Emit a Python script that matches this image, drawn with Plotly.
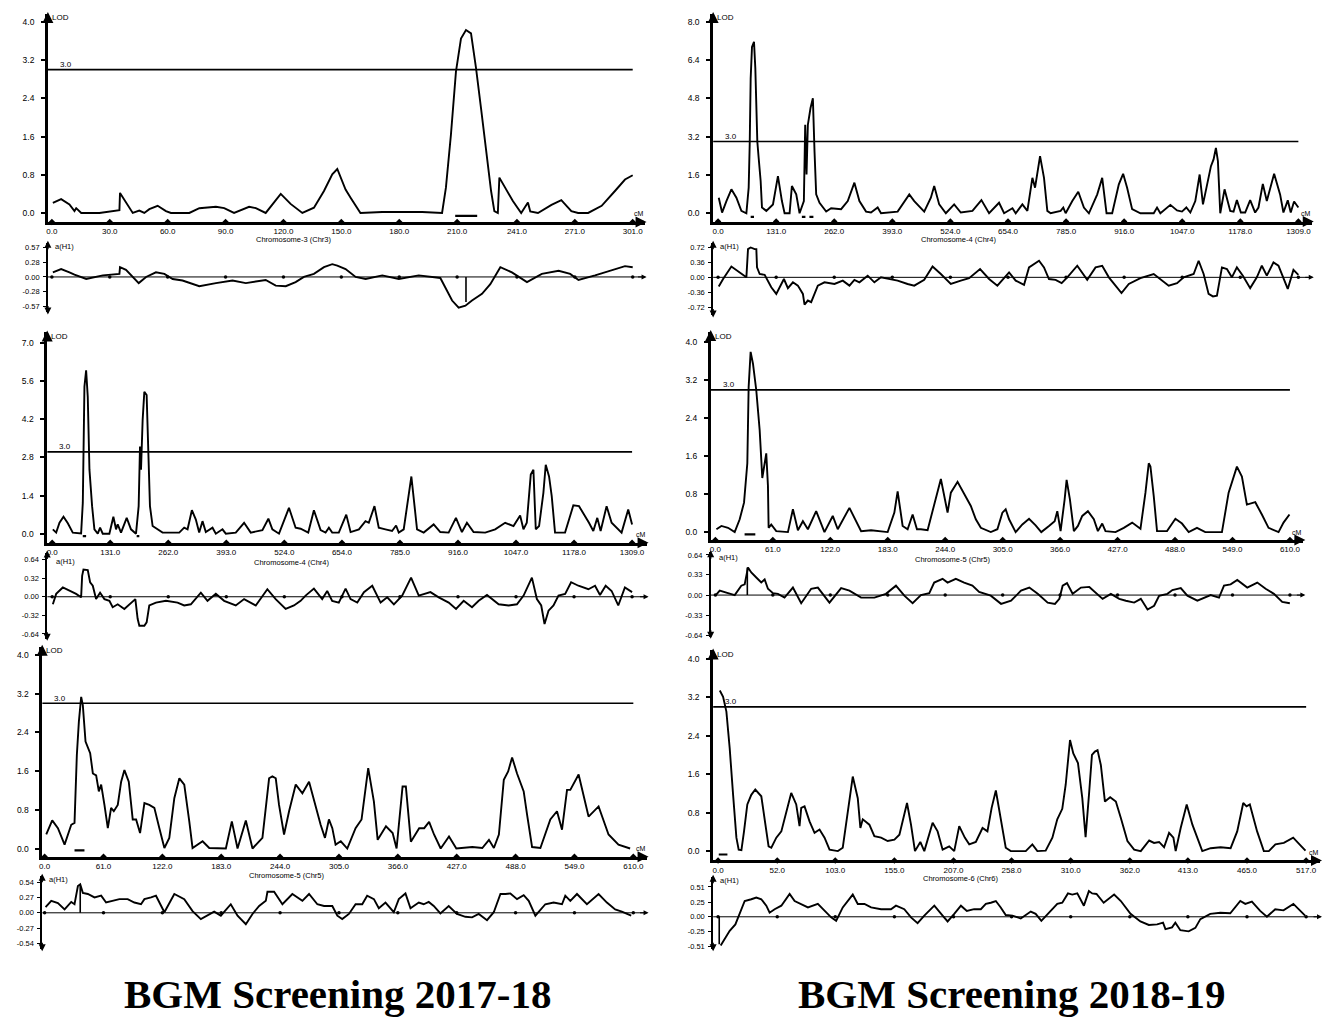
import plotly.graph_objects as go

W, H = 1333, 1018

# ------------------------------------------------------------------ data
lod_threshold = 3.0

# Chr3, 2017-18
chr3_1718_cm = [0.5,4.8,9.1,11.7,12.6,15.2,24.6,31.5,35.0,35.3,37.6,41.9,45.3,47.9,50.5,54.8,59.1,61.7,71.2,76.4,
                85.0,89.3,94.4,102.2,105.7,110.8,118.6,123.7,129.8,135.8,141.0,145.3,147.9,152.2,154.8,159.9,171.2,191.9,202.2,204.2,
                206.8,209.4,212.0,214.6,217.2,219.8,222.4,225.0,227.6,229.3,231.1,231.9,234.5,238.9,243.2,246.7,247.9,251.9,258.9,264.0,
                269.2,272.7,277.9,284.9,291.8,297.0,301.0]
chr3_1718_lod = [0.21,0.29,0.18,0.04,0.10,0.0,0.0,0.04,0.06,0.42,0.28,0.0,0.05,0.0,0.08,0.15,0.04,0.0,0.0,0.10,
                 0.13,0.10,0.0,0.13,0.10,0.0,0.40,0.19,0.0,0.11,0.46,0.81,0.92,0.49,0.32,0.0,0.02,0.02,0.0,0.53,
                 1.64,2.96,3.65,3.83,3.76,3.03,2.19,1.29,0.46,0.04,0.0,0.74,0.56,0.25,0.0,0.22,0.03,0.0,0.17,0.27,
                 0.04,0.0,0.0,0.15,0.46,0.70,0.79]
chr3_1718_a_cm = [0.5,4.8,9.1,11.7,17.8,26.4,35.0,35.3,38.4,41.9,45.0,48.8,53.9,58.3,62.6,67.7,76.4,85.0,93.6,100.5,
                  110.8,116.0,121.2,126.3,130.6,135.8,141.0,145.3,147.9,152.2,157.4,162.6,171.2,179.8,190.1,201.3,203.9,207.4,210.8,214.3,
                  217.7,222.9,227.2,232.4,238.4,246.2,253.9,262.6,268.6,272.9,281.5,291.8,297.0,301.0]
chr3_1718_a = [0.09,0.155,0.09,0.045,-0.04,0.03,0.06,0.19,0.14,0.0,-0.12,0.0,0.09,0.06,-0.04,-0.07,-0.18,-0.12,-0.07,-0.12,
               -0.06,-0.17,-0.18,-0.10,0.0,0.06,0.19,0.25,0.22,0.155,0.0,-0.04,0.03,-0.04,0.03,-0.02,-0.20,-0.46,-0.60,-0.56,
               -0.46,-0.33,-0.14,0.19,0.09,-0.10,0.06,0.12,0.06,-0.06,0.03,0.155,0.21,0.19]

# Chr4, 2018-19
chr4_1819_cm = [1.5,9,18.8,30,41.3,52.5,63.8,69,71.3,73.5,76.5,81,84,88.5,91.5,96,99,108.8,123.8,135,
                144,150,161.3,166.5,176.3,183.8,193.5,196.5,199.5,202.5,208.5,213.8,217.5,221.3,228.8,243.8,255,277.5,292.5,307.5,
                318.8,333.8,345,360,367.5,405,431.3,442.5,465,480,487.5,498.8,513.8,532.5,547.5,573.8,594,611.3,633.8,645.2,
                664,671.4,686.4,697.7,709,715,726.3,735.2,742.7,750.2,772.7,778.7,784,799,812.5,825.2,836.5,855.3,866.5,876.3,
                889,904,913.7,922.7,934,952.7,982.7,990.2,997.7,1020.3,1035.3,1046.5,1056.3,1065.3,1076.5,1086.3,1093.8,1102.8,1111.8,1117.7,
                1123,1127.5,1132.8,1142.5,1155.3,1162.8,1170.3,1179.3,1189,1200.3,1211.5,1219,1228.8,1237.8,1254.3,1267.8,1275.3,1285.1,1291.8,1299.3,
                1309]
chr4_1819_lod = [0.65,0.03,0.51,1.0,0.65,0.1,0,1.07,2.87,5.64,6.96,7.17,6.06,3.0,2.32,1.35,0.24,0.1,0.37,1.55,
                 0.51,0,0,1.14,0.79,0,0.51,3.7,1.62,3.7,4.4,4.81,2.59,0.79,0.44,0.07,0.21,0.17,0.51,1.28,
                 0.51,0.07,0.03,0.24,0,0.07,0.79,0.51,0.07,0.65,1.14,0.37,0,0.37,0.03,0.1,0.55,0,0.44,0,
                 0.21,0,0.37,0.1,1.48,1.07,2.39,1.48,0.1,0,0.1,0.24,0,0.51,0.9,0.24,0,0.79,1.48,0,
                 0,1.21,1.65,1.07,0.17,0,0,0.24,0,0.35,0.12,0.07,0.24,0.03,0.51,1.62,0.37,1.21,1.97,2.25,
                 2.73,2.18,0,1.0,0.1,0.07,0.55,0.03,0.03,0.55,0.03,0.24,1.23,0.51,1.65,0.79,0.03,0.54,0.03,0.49,
                 0.24]
chr4_1819_a_cm = [1.5,11.3,30,48.8,63.8,67.5,73.5,82.5,86.3,87.8,93.8,105,120,131.3,138.8,148.5,157.5,168.8,180,191.3,
                  195,202.5,210,217.5,225,240,262.5,281.3,296.3,307.5,318.8,337.5,352.5,367.5,386.3,405,427.5,442.5,465,483.8,
                  502.5,525,547.5,566.3,591,611.3,630,656.4,671.4,690.2,701.4,712.7,724,735.2,746.4,761.4,775,787.7,810.2,832.7,
                  851.5,866.5,881.5,896.5,910,926.5,952.7,982.7,997.7,1016.5,1035.3,1050.3,1072.8,1084,1095.3,1106.5,1116.3,1125.3,1136.6,1147.8,
                  1159,1170.3,1183.8,1200.3,1215.3,1226.6,1237.8,1252.8,1264.1,1273.9,1285.1,1297.9,1309]
chr4_1819_a = [-0.22,-0.04,0.26,0.12,0,0.68,0.72,0.68,0.68,0.24,0.08,0.06,-0.24,-0.4,-0.24,-0.04,-0.26,-0.12,-0.2,-0.4,
               -0.66,-0.56,-0.6,-0.4,-0.2,-0.12,-0.16,-0.08,-0.2,-0.06,-0.12,0.04,-0.12,0,-0.04,-0.08,-0.16,-0.2,-0.06,0.26,
               0.08,-0.16,-0.08,-0.02,0.2,-0.04,-0.2,0.12,-0.08,-0.18,0.24,0.32,0.4,0.24,-0.04,-0.06,-0.14,0,0.28,-0.06,
               0.24,0.28,0,-0.2,-0.38,-0.16,-0.02,0.08,-0.04,-0.2,-0.14,0,0.08,0.4,0.08,-0.4,-0.46,-0.44,0.24,0.2,
               0,0.24,0.04,-0.26,0,0.28,0.04,0.36,0.28,0,-0.28,0.18,0.06]

# Chr4, 2017-18
chr4_1718_cm = [1.5,9,16.5,25.5,35.3,46.5,65.3,69.1,72.8,76.6,80.3,84.1,90.1,95.3,102.9,108.1,114.1,129.1,138.1,144.1,
                147.9,155.4,168.2,177.9,189.2,195.2,198.2,200.5,204.2,208,213.2,217.7,220.7,226.7,241.7,249.2,286.8,298,305.6,315.3,
                324.3,331.8,339.3,346.8,361.9,369.4,384.4,391.9,414.4,433.2,448.2,474.5,488,497,512,534.5,549.5,560.8,578,590.8,
                605.9,617.1,624.6,632.1,647,663.8,673.6,692.4,707.2,714.7,727.5,737.2,752.2,767.2,776.3,782.3,793.5,810.8,823.6,838.6,
                861.1,876.1,894.9,911.4,924.9,936.2,951.2,977.5,1000,1022.5,1041.3,1056.3,1063.8,1071.3,1080.3,1086.3,1091.6,1099.1,1108.8,1114.1,
                1121.6,1127.6,1135.1,1157.7,1166.7,1176.4,1189.2,1201.2,1211.7,1221.5,1230.5,1238,1251.5,1262.8,1274,1285.3,1300.3,1309]
chr4_1718_lod = [0.16,0.04,0.4,0.62,0.38,0.04,0.01,1.13,5.4,6.0,5.03,2.35,1.01,0.16,0,0.22,0,0,0.62,0.16,
                 0.34,0.04,0.58,0.16,0,1.01,3.2,2.35,4.18,5.21,5.09,2.96,1.01,0.28,0.13,0.04,0.04,0.22,0.16,0.86,
                 0.52,0.04,0.46,0.06,0.22,0,0.16,0,0.04,0.4,0.04,0.13,0.55,0.16,0,0.95,0.22,0.18,0.04,0.86,
                 0.13,0.04,0.22,0.04,0.04,0.7,0.06,0.16,0.46,0.4,1.01,0.22,0.16,0.1,0.3,0.04,0.16,2.1,0.16,0.04,
                 0.34,0.06,0.04,0.58,0.06,0.4,0.06,0.04,0.16,0.4,0.28,0.67,0.16,0.4,2.17,2.35,0.16,0.28,1.5,2.53,
                 2.1,1.38,0.04,0.04,0.52,1.04,1.01,0.7,0.4,0.1,0.58,0.1,1.01,0.4,0.22,0.04,0.89,0.34]
chr4_1718_a_cm = [1.5,9,24,39,54,65.3,67.6,70.6,80.3,85.6,91.6,99.1,108.1,117.9,129.1,136.6,147.9,162.9,177.9,187.7,
                  192.9,196.7,208,213.2,219.2,234.2,256.8,283,298,313,335.6,350.6,369.4,388.1,414.4,433.2,459.5,485.7,504.5,527,
                  545.8,560.8,572,590.8,609.5,620.8,632.1,647,662.3,673.6,688.7,703.7,722.5,741.3,756.3,771.3,790,810.1,827.5,853.8,
                  872.6,895.1,911.6,928.9,947.7,962.7,981.5,1007.8,1030.3,1049.1,1064.1,1082.9,1094.1,1103.9,1111.4,1120.4,1131.6,1142.9,1157.9,1171.4,
                  1187.8,1210.4,1225.4,1236.6,1249.4,1262.8,1277.8,1292.8,1309]
chr4_1718_a = [-0.13,0.05,0.16,0.1,0.05,-0.01,0.36,0.47,0.46,0.25,0.19,-0.04,0.07,-0.04,-0.07,-0.18,-0.13,-0.21,-0.1,-0.04,
               -0.38,-0.5,-0.5,-0.44,-0.15,-0.1,-0.07,-0.1,-0.15,-0.13,0.07,-0.07,0.05,-0.07,-0.15,-0.04,-0.15,0.13,-0.04,-0.21,
               -0.15,-0.07,0.02,0.14,-0.04,0.1,-0.07,-0.1,0.14,-0.04,-0.1,0.08,0.19,-0.1,-0.01,-0.13,0.02,0.33,0.02,0.08,
               -0.01,-0.1,-0.21,-0.07,-0.18,-0.07,0.03,-0.13,-0.15,-0.13,0.02,0.33,-0.04,-0.15,-0.47,-0.24,-0.15,0.02,0.05,0.25,
               0.19,0.13,0.19,0.03,0.19,0.1,-0.15,0.16,0.08]

# Chr5, 2018-19
chr5_1819_cm = [1.1,6.4,13.4,20.5,25.8,30.4,33.9,35.3,37.4,39.9,43.4,47,49.8,52.3,54,55.8,56.5,59.3,64.6,77,
                82.3,87.6,92.9,98.2,107,115.8,124.6,129.9,142.3,154.7,165.3,182.9,190,193.5,198.8,204.1,209.4,214,218.2,225.3,
                232.3,239.4,246.5,250,257.1,264.1,271.2,276.5,281.8,292.4,299.4,304.7,308.2,311.8,318.8,325.9,333,340,346,354.2,
                360.2,363,366.5,370.8,372.9,376.4,380.6,384.9,389.5,395.5,401.8,406.1,410.7,414.2,424.8,433.6,442.5,451.3,456.6,460.1,
                461.9,465.4,468.9,479.5,488.4,495.4,502.5,511.3,520.1,537.8,544.9,553.7,559,564.3,573.2,580.2,587.3,597.9,603.2,609.5]
chr5_1819_lod = [0.06,0.13,0.09,0,0.27,0.62,1.45,3.06,3.8,3.55,2.99,2.15,1.14,1.52,1.66,0.97,0.09,0.16,0.02,0,
                 0.48,0.04,0.23,0.06,0.44,0,0.34,0.06,0.51,0.02,0.04,0,0.41,0.86,0.13,0.06,0.37,0.06,0.06,0.04,
                 0.55,1.12,0.41,0.83,1.06,0.79,0.55,0.27,0.09,0,0.06,0.41,0.48,0.27,0,0.16,0.28,0.14,0,0.13,
                 0.23,0.44,0.02,0.69,1.1,0.69,0.02,0.13,0.34,0.44,0.27,0.02,0.18,0.02,0,0.09,0.2,0.07,0.83,1.45,
                 1.38,0.76,0.02,0.02,0.28,0.18,0,0.09,0,0,0.83,1.38,1.17,0.58,0.63,0.37,0.09,0,0.2,0.37]
chr5_1819_a_cm = [0,4.6,13.4,20.5,27.5,31.1,34.6,38.1,43.4,48.7,52.3,55.8,61.1,66.4,73.4,82.3,91.1,101.7,108.8,121.1,
                  133.5,142.3,154.7,168.8,181.1,191.7,200.6,209.4,218.2,227.1,232.3,237.6,241.2,246.5,255.3,264.1,272.9,280,292.4,303.3,
                  313.9,324.5,333.3,342.2,352.8,360.5,365.2,368.7,373.3,379.3,388.1,397,404,411.1,419.9,428.8,435.8,444.6,451.7,458.8,
                  465.8,471.1,479.9,485.2,494.1,501.1,511.7,525.8,534.7,540,547,554.1,564.7,575.3,584.2,593,601.8,609.9]
chr5_1819_a = [-0.01,0.07,0.03,0,0.15,0.17,0.44,0.36,0.28,0.2,0.25,0.1,0.03,0.02,-0.04,0.12,-0.13,0.1,0.12,-0.12,
               0.11,0.07,-0.04,-0.04,0.02,0.15,-0.01,-0.13,0,0.03,0.2,0.23,0.26,0.2,0.26,0.2,0.15,0.05,-0.01,-0.14,
               -0.09,0.07,0.12,0.02,-0.12,-0.14,-0.06,0.15,0.19,0.02,0.12,0.13,0.04,-0.06,0.02,-0.06,-0.09,-0.12,-0.06,-0.23,
               -0.17,-0.01,0.02,0.08,0.11,-0.01,-0.09,0,-0.04,0.15,0.17,0.24,0.12,0.2,0.1,0.02,-0.11,-0.13]

# Chr5, 2017-18
chr5_1718_cm = [1.7,7.9,13.8,20.7,27.6,31,33.4,35.5,37.9,39.6,42.4,44.8,47.2,50,53.4,56.2,58.6,62,65.5,68.9,
                71.7,75.8,79.3,82.7,87.2,91.3,94.8,98.9,103.4,108.5,113.7,118.9,124.1,129.2,134.4,139.6,144.7,149.9,153.3,163.7,
                170.6,187.8,194,199.9,208.5,215.4,225.7,232.6,236,239.5,242.9,248.1,253.3,260.2,267.1,274,280.8,286,290.5,294.6,
                298.1,301.5,306.9,313.6,322.2,328.4,335.3,341.2,345.1,353.7,360.6,364.7,370.9,374.3,379.5,388.1,393.3,398.4,403.5,410.4,
                419,426.6,443.1,453.5,460.4,465.5,470.7,475.8,480.3,484.4,489.5,496.4,499.9,505.1,513.7,524,530.9,536.1,541.3,544.7,
                553.3,563.6,574,584.3,594.6,606.7]
chr5_1718_lod = [0.29,0.58,0.42,0.08,0.49,0.53,1.93,2.62,3.13,2.96,2.21,2.1,1.97,1.55,1.51,1.18,1.32,0.9,0.42,0.84,
                 0.77,0.9,1.38,1.62,1.38,0.6,0.6,0.32,0.94,0.9,0.84,0.42,0.01,0.22,1.04,1.45,1.32,0.56,0.01,0.15,
                 0.01,0,0.56,0,0.58,0,0.22,1.45,1.49,1.45,0.9,0.29,0.77,1.32,1.14,1.38,0.84,0.49,0.22,0.6,
                 0.42,0.08,0.15,0,0.42,0.6,1.66,0.97,0.18,0.46,0.32,0,1.28,1.28,0.14,0.42,0.42,0.55,0.29,0,
                 0.25,0,0.03,0.01,0.18,0.01,0.29,1.42,1.59,1.88,1.55,1.18,0.7,0.03,0.01,0.6,0.77,0.39,1.21,1.21,
                 1.53,0.66,0.87,0.29,0.08,0]
chr5_1718_a_cm = [1,6.9,13.8,20.7,27.6,31,34.5,36.9,39.6,44.8,51.7,58.6,63.7,70.6,77.5,86.1,93,99.9,103.4,110.3,
                  115.4,124.1,134.4,144.7,153.3,161.9,175.7,182.6,192.9,199.9,208.5,215.4,222.3,229.2,230.9,237.8,246.4,256.7,267.1,274,
                  282.6,289.5,298.1,303.3,308.4,315.3,322.2,329.1,334.2,341.2,346.3,353.2,361.8,367,373.9,379.1,387.7,392.8,398,403.2,
                  410.1,418.7,427.3,436,442.9,449.8,458.4,465.4,472.3,477.5,482.6,489.5,496.4,501.6,508.5,518.8,527.4,536.1,539.5,544.7,
                  551.6,561.9,574,582.6,591.2,598.1,607.8]
chr5_1718_a = [0.1,0.21,0.17,0.06,0.19,0.15,0.47,0.5,0.35,0.33,0.27,0.3,0.18,0.21,0.24,0.24,0.18,0.15,0.24,0.27,
               0.3,0.01,0.33,0.24,0.03,-0.11,0.02,-0.05,0.15,-0.05,-0.2,-0.02,0.12,0.21,0.37,0.37,0.15,0.33,0.21,0.33,
               0.15,0.12,0.12,-0.05,-0.11,-0.02,0.15,0.15,0.3,0.24,0.08,0.18,0.01,0.24,0.34,0.08,0.18,0.15,0.19,0.12,
               -0.01,0.12,-0.02,-0.07,-0.08,-0.02,-0.13,0.01,0.33,0.33,0.34,0.24,0.31,0.21,-0.05,0.15,0.18,0.15,0.3,0.21,
               0.33,0.15,0.33,0.18,0.06,0.02,-0.05]

# Chr6, 2018-19
chr6_1819_cm = [1.5,4.4,7.3,10.2,13.2,16.1,18.1,20.5,22.8,25.7,29.2,32.7,38,40.9,44.4,46.8,51.2,55.6,59.9,64.3,
                68.7,71.6,73.1,76,80.4,84.8,89.2,93.6,98,105.3,109.6,114,118.4,122.8,125.1,127.2,133,137.4,143.3,149.1,
                155,159.4,166.1,169.6,173.1,177.8,181.3,188.6,193,197.4,203.2,207.6,212,216.9,220.8,226.6,232.5,236.8,240.5,244.2,
                248.5,252.9,257.3,270.5,276.3,280.7,288,293.9,298.2,302.6,305.6,309.4,312.3,316.4,320.2,323.1,326.3,328.7,331.3,333.6,
                336.5,340.1,344.7,349.7,354.1,359.9,365.8,371.6,379,383.3,387.7,392.1,396.5,400.3,402.3,406.7,412,417,425.7,433,
                441.8,450.6,456.4,461.7,464.6,467.5,473.9,479.8,484.2,490,497.4,505.6,512,516.4]
chr6_1819_lod = [3.34,3.21,2.9,2.14,1.17,0.28,0.03,0.02,0.41,0.97,1.17,1.28,1.14,0.62,0.1,0.07,0.28,0.41,0.83,1.21,
                 0.97,0.52,0.9,0.93,0.62,0.38,0.45,0.28,0.03,0,0.07,0.83,1.55,1.1,0.48,0.66,0.55,0.31,0.28,0.21,
                 0.24,0.34,1.0,0.55,0,0.19,0,0.59,0.41,0.03,0.1,0,0.52,0.28,0.14,0.19,0.48,0.41,0.9,1.26,
                 0.69,0.07,0,0,0.14,0,0.01,0.28,0.66,0.88,1.38,2.31,2.03,1.83,1.1,0.29,1.24,2.0,2.07,2.1,
                 1.79,1.03,1.12,1.03,0.69,0.21,0.03,0,0.22,0.17,0.19,0.08,0.38,0.28,0,0.48,0.97,0.55,0,0.06,
                 0.08,0.06,0.41,1.0,0.93,0.97,0.41,0,0,0.14,0.17,0.28,0.12,0.01]
chr6_1819_a_cm = [2.3,5.8,10.2,15.2,19,23.4,29.2,33.6,38,42.4,45.3,49.7,55.6,62.9,67.3,73.1,79,87.7,93.6,99.4,
                  103.8,109.6,118.4,122.8,128.7,134.5,143.3,152,156.4,163.7,169.6,175.4,181.3,190.1,197.4,201.8,207.6,213.5,218.7,225.1,
                  231,235.4,239.8,244.2,248.5,252.9,258.8,266.1,274.9,279.2,284.2,291,298.2,302.6,307.6,311.4,315.8,321.6,326,328.9,
                  332.7,339,348.2,354.1,362.6,371.3,378.7,386,391.2,393.3,399.1,402,406.4,413.7,419.6,424,432.7,441.5,450.3,459.1,
                  463.5,469.3,476.6,482.5,489.8,497.1,505.8,516.1]
chr6_1819_a = [-0.49,-0.38,-0.24,-0.13,0.05,0.27,0.3,0.33,0.3,0.19,0.07,0.13,0.19,0.39,0.27,0.22,0.16,0.22,0.1,-0.01,
               -0.07,0.16,0.38,0.22,0.22,0.16,0.13,0.13,0.19,0.13,-0.01,-0.11,0.02,0.19,0.02,-0.08,0.05,0.19,0.1,0.13,
               0.13,0.22,0.24,0.27,0.16,0.03,0.02,-0.03,0.09,0.05,-0.07,0.07,0.22,0.24,0.4,0.38,0.4,0.19,0.44,0.4,
               0.39,0.24,0.38,0.27,0.05,-0.08,-0.14,-0.13,-0.1,-0.21,-0.18,-0.1,-0.23,-0.25,-0.19,-0.04,0.05,0.07,0.06,0.27,
               0.22,0.26,0.1,0,0.13,0.11,0.22,0.02]

# axis ticks / labels
cm_ticks_chr3 = [0, 30, 60, 90, 120, 150, 180, 210, 241, 271, 301]
cm_ticks_chr4 = [0, 131, 262, 393, 524, 654, 785, 916, 1047, 1178, 1309]
cm_ticks_chr5 = [0, 61, 122, 183, 244, 305, 366, 427, 488, 549, 610]
cm_ticks_chr6 = [0, 52, 103, 155, 207, 258, 310, 362, 413, 465, 517]
lod_ticks_4 = [0.0, 0.8, 1.6, 2.4, 3.2, 4.0]
lod_ticks_8 = [0.0, 1.6, 3.2, 4.8, 6.4, 8.0]
lod_ticks_7 = [0.0, 1.4, 2.8, 4.2, 5.6, 7.0]
a_ticks_chr3_1718 = [0.57, 0.28, 0.0, -0.28, -0.57]
a_ticks_chr4_1819 = [0.72, 0.36, 0.0, -0.36, -0.72]
a_ticks_chr4_1718 = [0.64, 0.32, 0.0, -0.32, -0.64]
a_ticks_chr5_1819 = [0.64, 0.33, 0.0, -0.33, -0.64]
a_ticks_chr5_1718 = [0.54, 0.27, 0.0, -0.27, -0.54]
a_ticks_chr6_1819 = [0.51, 0.25, 0.0, -0.25, -0.51]

chrom_labels = ["Chromosome-3 (Chr3)", "Chromosome-4 (Chr4)", "Chromosome-4 (Chr4)",
                "Chromosome-5 (Chr5)", "Chromosome-5 (Chr5)", "Chromosome-6 (Chr6)"]
chrom_lengths = [301, 1309, 1309, 610, 610, 517]
# support intervals (cM) drawn under the LOD curve, and peak markers on a(H1)
support_intervals = [[(209, 220.4)], [(73.5, 81), (189, 197), (206, 215)], [(69, 76.6), (190.7, 196.7)],
                     [(31, 42.4)], [(31, 41.3)], [(0.6, 8.2)]]
peak_markers = [(214.6, -0.49), None, None, (33.9, 0.44), (36.9, 0.50), (1.0, -0.47)]
titles = ["BGM Screening 2017-18", "BGM Screening 2018-19"]

panels = [
    dict(cm=chr3_1718_cm, lod=chr3_1718_lod, a_cm=chr3_1718_a_cm, a=chr3_1718_a,
         xt=cm_ticks_chr3, lt=lod_ticks_4, at=a_ticks_chr3_1718),
    dict(cm=chr4_1819_cm, lod=chr4_1819_lod, a_cm=chr4_1819_a_cm, a=chr4_1819_a,
         xt=cm_ticks_chr4, lt=lod_ticks_8, at=a_ticks_chr4_1819),
    dict(cm=chr4_1718_cm, lod=chr4_1718_lod, a_cm=chr4_1718_a_cm, a=chr4_1718_a,
         xt=cm_ticks_chr4, lt=lod_ticks_7, at=a_ticks_chr4_1718),
    dict(cm=chr5_1819_cm, lod=chr5_1819_lod, a_cm=chr5_1819_a_cm, a=chr5_1819_a,
         xt=cm_ticks_chr5, lt=lod_ticks_4, at=a_ticks_chr5_1819),
    dict(cm=chr5_1718_cm, lod=chr5_1718_lod, a_cm=chr5_1718_a_cm, a=chr5_1718_a,
         xt=cm_ticks_chr5, lt=lod_ticks_4, at=a_ticks_chr5_1718),
    dict(cm=chr6_1819_cm, lod=chr6_1819_lod, a_cm=chr6_1819_a_cm, a=chr6_1819_a,
         xt=cm_ticks_chr6, lt=lod_ticks_4, at=a_ticks_chr6_1819),
]

# ------------------------------------------------------------------ layout geometry (pixels)
geoms = [
    dict(ax=45.0, x0=49.0, s=1.934, xend=643, top=12, zero=212.0, u=48.0, bot=221.0,
         atop=242, azero=276.3, au=51.5, abot=312, chrom=(292, 239), ci_y=-0.06, alab=(6, 4)),
    dict(ax=711.7, x0=716.7, s=0.4443, xend=1311.7, top=12, zero=212.3, u=24.03, bot=220.7,
         atop=242, azero=276.7, au=41.67, abot=315, chrom=(958, 239), ci_y=-0.15, alab=(6, 4)),
    dict(ax=44.3, x0=49.3, s=0.444, xend=645, top=332, zero=534.3, u=27.37, bot=543.3,
         atop=553.3, azero=597.7, au=58.3, abot=640, chrom=(290, 563), ci_y=-0.09, alab=(8, 9)),
    dict(ax=709.3, x0=714.0, s=0.944, xend=1303.3, top=331.7, zero=532.7, u=47.67, bot=540.7,
         atop=553, azero=596.0, au=63.0, abot=638, chrom=(952, 560), ci_y=-0.05, alab=(7, 5)),
    dict(ax=39.3, x0=41.7, s=0.9673, xend=645, top=648, zero=850.7, u=48.67, bot=859.0,
         atop=878, azero=915.3, au=57.3, abot=952, chrom=(285, 877.5), ci_y=-0.04, alab=(6, 4)),
    dict(ax=711.7, x0=716.7, s=1.14, xend=1320, top=651.7, zero=853.3, u=48.33, bot=862.7,
         atop=879, azero=919.3, au=58.7, abot=952, chrom=(960, 881), ci_y=-0.07, alab=(6, 4)),
]

FONT = "Liberation Sans"
fig = go.Figure()
layout = dict(width=W, height=H, margin=dict(l=0, r=0, t=0, b=0), showlegend=False,
              paper_bgcolor="white", plot_bgcolor="white")
annotations = []


def pxx(x):
    return x / W


def pxy(y):
    return 1 - y / H


def arrow(xp, yp, dx, dy, width=1.6):
    return dict(x=pxx(xp), y=pxy(yp), xref="paper", yref="paper", ax=dx, ay=dy,
                showarrow=True, arrowhead=2, arrowsize=1, arrowwidth=width,
                arrowcolor="black", text="")


def label(text, xp, yp, size=8, xanchor="left", yanchor="middle"):
    return dict(x=pxx(xp), y=pxy(yp), xref="paper", yref="paper", text=text,
                showarrow=False, xanchor=xanchor, yanchor=yanchor, borderpad=0,
                font=dict(size=size, color="black", family=FONT))


def fmt1(v):
    return f"{v:.1f}"


def fmt2(v):
    return f"{v:.2f}"


for i, (p, g) in enumerate(zip(panels, geoms)):
    kl, ka = 2 * i + 1, 2 * i + 2
    xl = "x" if kl == 1 else f"x{kl}"
    yl = "y" if kl == 1 else f"y{kl}"
    xa, ya = f"x{ka}", f"y{ka}"
    xr = [(g["ax"] - g["x0"]) / g["s"], (g["xend"] - g["x0"]) / g["s"]]
    xdom = [pxx(g["ax"]), pxx(g["xend"])]
    yr = [-(g["bot"] - g["zero"]) / g["u"], (g["zero"] - g["top"]) / g["u"]]
    ar = [-(g["abot"] - g["azero"]) / g["au"], (g["azero"] - g["atop"]) / g["au"]]

    layout["xaxis" if kl == 1 else f"xaxis{kl}"] = dict(
        domain=xdom, range=xr, anchor=yl, showline=True, linewidth=2.6, linecolor="black",
        ticks="", tickvals=p["xt"], ticktext=[fmt1(v) for v in p["xt"]],
        tickfont=dict(size=8, color="black", family=FONT), showgrid=False, zeroline=False,
        ticklabelstandoff=0)
    layout["yaxis" if kl == 1 else f"yaxis{kl}"] = dict(
        domain=[pxy(g["bot"]), pxy(g["top"])], range=yr, anchor=xl, showline=True,
        linewidth=2.6, linecolor="black", ticks="outside", ticklen=4, tickwidth=1.6,
        tickcolor="black", tickvals=p["lt"], ticktext=[fmt1(v) for v in p["lt"]],
        tickfont=dict(size=8.5, color="black", family=FONT), showgrid=False, zeroline=False,
        ticklabelstandoff=5)
    layout[f"xaxis{ka}"] = dict(domain=xdom, range=xr, anchor=ya, visible=False)
    layout[f"yaxis{ka}"] = dict(
        domain=[pxy(g["abot"]), pxy(g["atop"])], range=ar, anchor=xa, showline=True,
        linewidth=1.6, linecolor="black", ticks="outside", ticklen=3, tickwidth=1.4,
        tickcolor="black", tickvals=p["at"], ticktext=[fmt2(v) for v in p["at"]],
        tickfont=dict(size=7.5, color="black", family=FONT), showgrid=False, zeroline=False,
        ticklabelstandoff=2)

    line = dict(color="black", width=1.9)
    # LOD curve
    fig.add_trace(go.Scatter(x=p["cm"], y=p["lod"], mode="lines", line=line, xaxis=xl, yaxis=yl))
    # threshold
    fig.add_trace(go.Scatter(x=[xr[0], chrom_lengths[i]], y=[lod_threshold, lod_threshold],
                             mode="lines", line=dict(color="black", width=1.7), xaxis=xl, yaxis=yl))
    # support intervals
    for (c0, c1) in support_intervals[i]:
        fig.add_trace(go.Scatter(x=[c0, c1], y=[g["ci_y"], g["ci_y"]], mode="lines",
                                 line=dict(color="black", width=2.2), xaxis=xl, yaxis=yl))
    # tick dots on the cM axis
    fig.add_trace(go.Scatter(x=p["xt"], y=[yr[0]] * len(p["xt"]), mode="markers",
                             marker=dict(color="black", size=5, symbol="diamond"),
                             cliponaxis=False, xaxis=xl, yaxis=yl))
    # a(H1) zero line and dots
    fig.add_trace(go.Scatter(x=[xr[0], xr[1] - 2 / g["s"]], y=[0, 0], mode="lines",
                             line=dict(color="black", width=1), xaxis=xa, yaxis=ya))
    fig.add_trace(go.Scatter(x=p["xt"], y=[0] * len(p["xt"]), mode="markers",
                             marker=dict(color="black", size=3.5), cliponaxis=False,
                             xaxis=xa, yaxis=ya))
    # a(H1) curve
    fig.add_trace(go.Scatter(x=p["a_cm"], y=p["a"], mode="lines", line=line, xaxis=xa, yaxis=ya))
    if peak_markers[i] is not None:
        pc, pv = peak_markers[i]
        fig.add_trace(go.Scatter(x=[pc, pc], y=[0, pv], mode="lines",
                                 line=dict(color="black", width=1.6), xaxis=xa, yaxis=ya))

    thr_px = g["zero"] - lod_threshold * g["u"]
    annotations += [
        arrow(g["ax"], g["top"] - 2, 0, 12, 2.2),
        arrow(g["xend"] + 2, g["bot"], -12, 0, 2.2),
        arrow(g["ax"], g["atop"] - 2, 0, 10, 1.4),
        arrow(g["ax"], g["abot"] + 2, 0, -10, 1.4),
        arrow(g["xend"] + 2, g["azero"], -10, 0, 1.0),
        label("LOD", g["ax"] + 3, g["top"] + 4, size=8),
        label("a(H1)", g["ax"] + g["alab"][0], g["atop"] + g["alab"][1], size=7.5),
        label("cM", g["xend"] - 12, g["bot"] - 8, size=7),
        label(fmt1(lod_threshold), g["ax"] + 11, thr_px - 5, size=8),
        label(chrom_labels[i], g["chrom"][0], g["chrom"][1], size=7.5, xanchor="center"),
    ]

annotations += [
    dict(x=pxx(335.5), y=pxy(997), xref="paper", yref="paper", text="<b>" + titles[0] + "</b>",
         showarrow=False, xanchor="center", yanchor="middle",
         font=dict(family="Liberation Serif", size=41, color="black")),
    dict(x=pxx(1011), y=pxy(997), xref="paper", yref="paper", text="<b>" + titles[1] + "</b>",
         showarrow=False, xanchor="center", yanchor="middle",
         font=dict(family="Liberation Serif", size=41, color="black")),
]
layout["annotations"] = annotations
fig.update_layout(**layout)
fig.write_html("out.html")
